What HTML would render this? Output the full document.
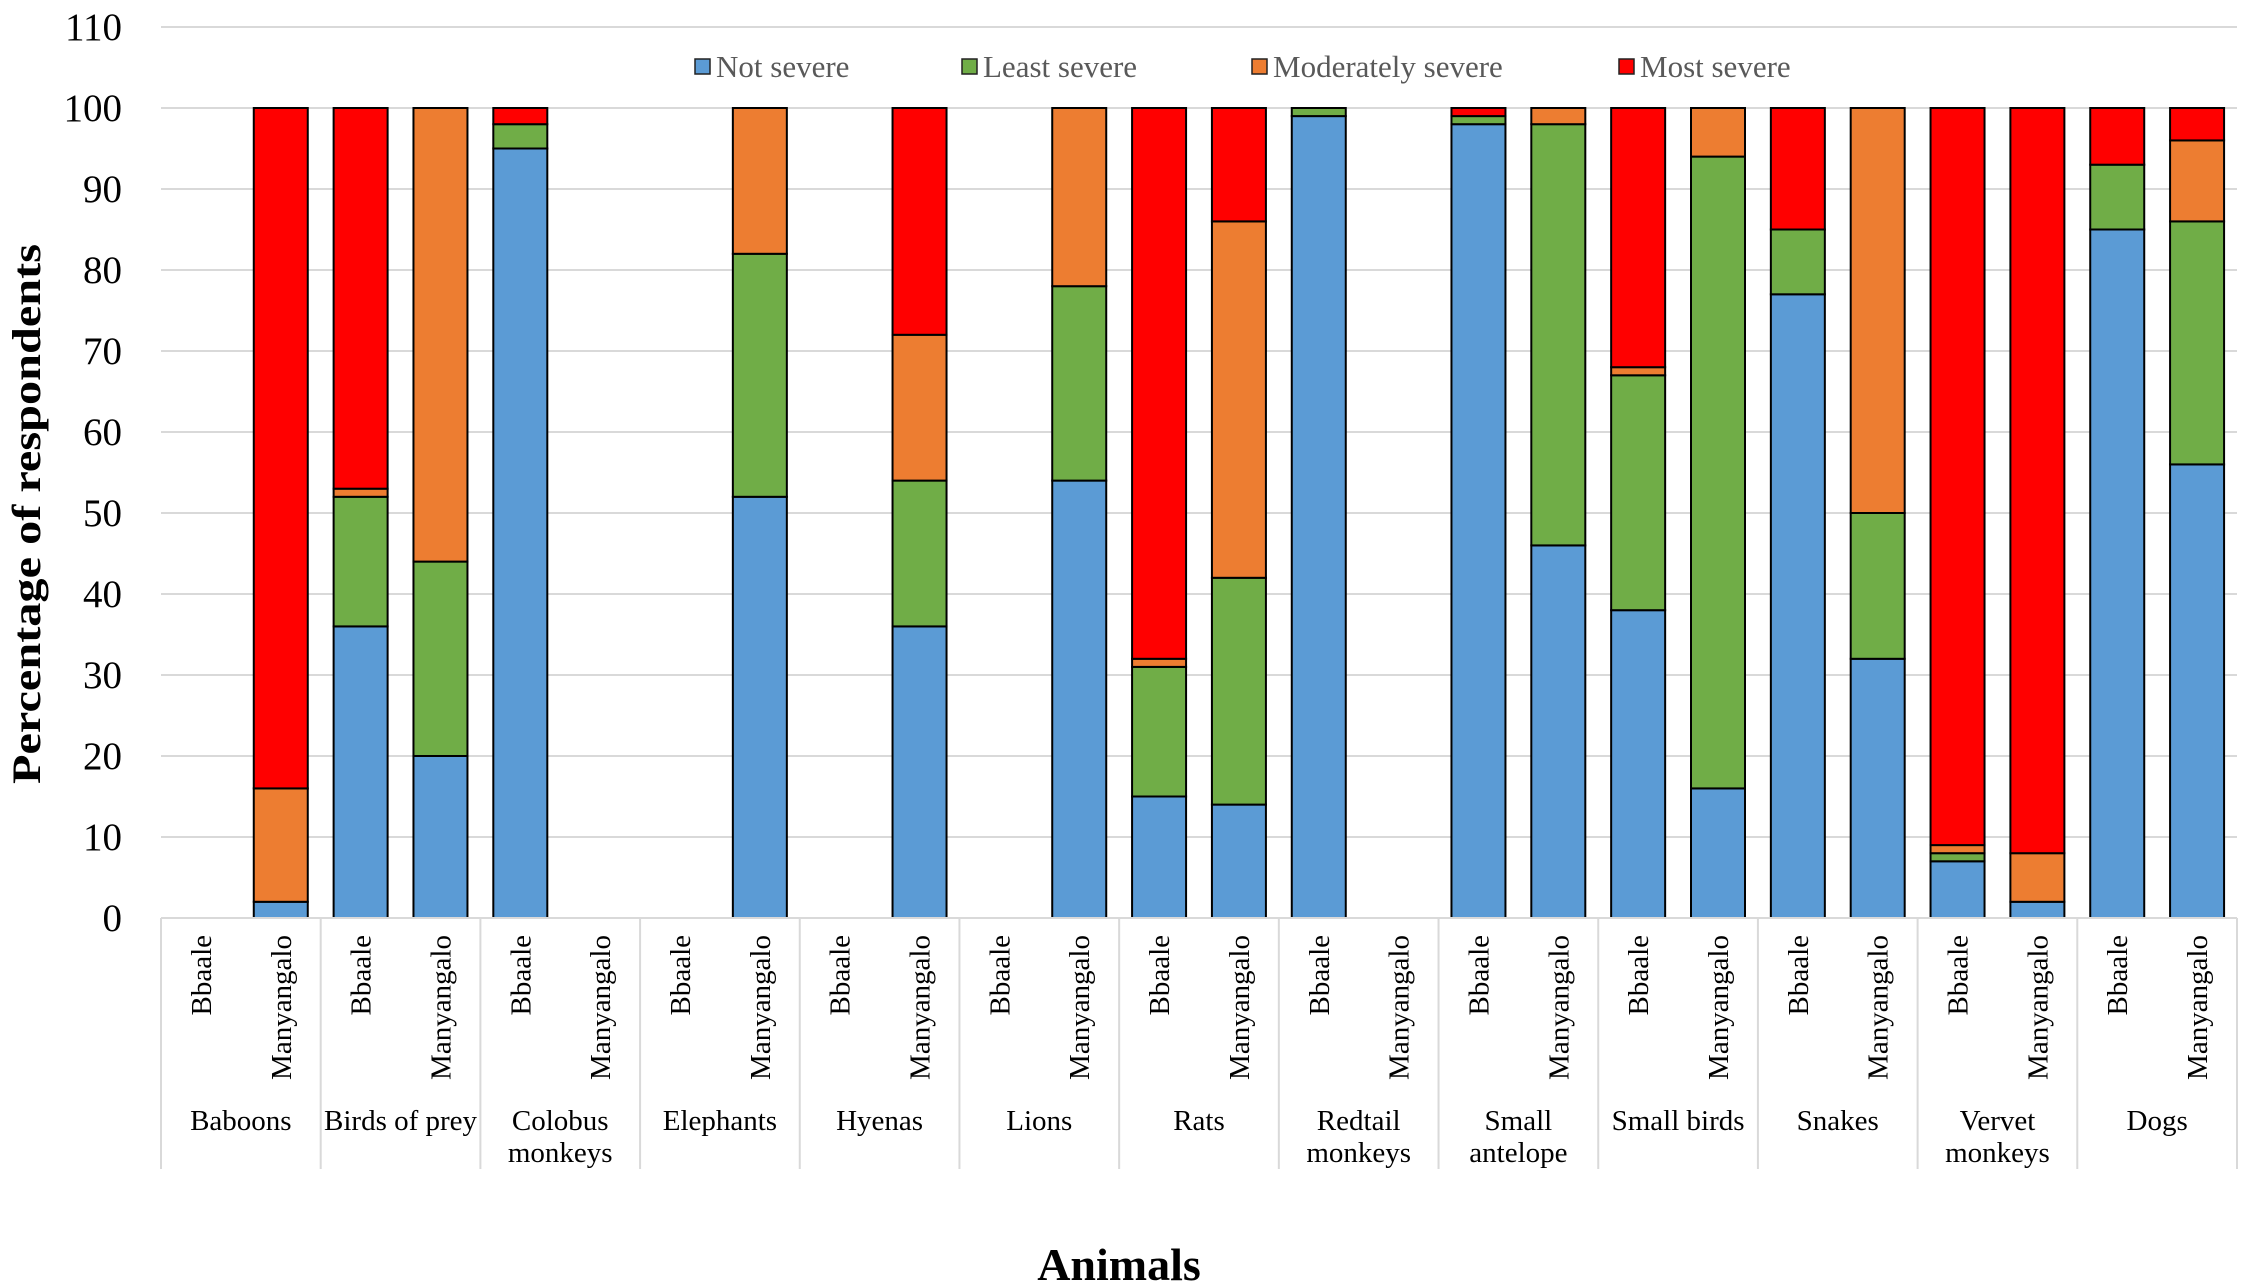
<!DOCTYPE html>
<html><head><meta charset="utf-8"><style>
html,body{margin:0;padding:0;background:#fff;}
svg{display:block;font-family:"Liberation Serif",serif;}
</style></head><body>
<svg id="chart" width="2246" height="1286" viewBox="0 0 2246 1286" xmlns="http://www.w3.org/2000/svg">
<g id="grid"></g>
<g id="yticks"></g>
<g id="bars"></g>
<g id="xaxis"></g>
<text transform="translate(40,514) rotate(-90)" text-anchor="middle" font-size="40" font-weight="bold" textLength="540" lengthAdjust="spacingAndGlyphs">Percentage of respondents</text>
<text x="1119" y="1280" text-anchor="middle" font-size="46" font-weight="bold">Animals</text>
<g id="legend"></g>
</svg>
<script>
const categories = ["Baboons","Birds of prey","Colobus monkeys","Elephants","Hyenas","Lions","Rats","Redtail monkeys","Small antelope","Small birds","Snakes","Vervet monkeys","Dogs"];
const sites = ["Bbaale","Manyangalo"];
const seriesNames = ["Not severe","Least severe","Moderately severe","Most severe"];
// values per bar, order: cat0-Bbaale, cat0-Manyangalo, cat1-Bbaale, ...
const notSevere      = [0,2, 36,20, 95,0, 0,52, 0,36, 0,54, 15,14, 99,0, 98,46, 38,16, 77,32, 7,2, 85,56];
const leastSevere    = [0,0, 16,24, 3,0,  0,30, 0,18, 0,24, 16,28, 1,0,  1,52,  29,78, 8,18,  1,0, 8,30];
const moderateSevere = [0,14, 1,56, 0,0,  0,18, 0,18, 0,22, 1,44,  0,0,  0,2,   1,6,   0,50,  1,6, 0,10];
const mostSevere     = [0,84, 47,0, 2,0,  0,0,  0,28, 0,0,  68,14, 0,0,  1,0,   32,0,  15,0,  91,92, 7,4];
const yTicks = [0,10,20,30,40,50,60,70,80,90,100,110];

const colors = ["#5B9BD5","#70AD47","#ED7D31","#FF0000"];
const NS = "http://www.w3.org/2000/svg";
const X0 = 161, X1 = 2237, Y0 = 918, PX = 8.1;
const catW = (X1 - X0) / categories.length;
const barW = 54;
function y(v){ return Y0 - v * PX; }
function barCenter(i){ return X0 + catW * (Math.floor(i/2) + (i%2 ? 0.75 : 0.25)); }
function mk(tag, attrs, parent){ const e=document.createElementNS(NS,tag); for(const k in attrs) e.setAttribute(k,attrs[k]); parent.appendChild(e); return e; }

const grid = document.getElementById('grid'), yt = document.getElementById('yticks');
yTicks.forEach(t=>{
  if(t>0){ const l=mk('line',{x1:X0,x2:X1,y1:y(t),y2:y(t),stroke:'#d9d9d9','stroke-width':2},grid);
    
     }
  const tx=mk('text',{x:122,y:y(t)+13,'text-anchor':'end','font-size':39},yt);
  tx.textContent=t;
  
  
});

const series=[notSevere,leastSevere,moderateSevere,mostSevere];
const bars=document.getElementById('bars');
for(let i=0;i<categories.length*2;i++){
  let acc=0; const cx=barCenter(i);
  series.forEach((s,k)=>{
    const v=s[i]; if(!v) return;
    const r=mk('rect',{x:cx-barW/2,y:y(acc+v),width:barW,height:v*PX,fill:colors[k],stroke:'#000','stroke-width':2},bars);
    
    
    acc+=v;
  });
}

const xa=document.getElementById('xaxis');
const ax=mk('line',{x1:X0,x2:X1,y1:Y0,y2:Y0,stroke:'#d9d9d9','stroke-width':2},xa);


for(let c=0;c<=categories.length;c++){
  const xx=X0+c*catW;
  const l=mk('line',{x1:xx,x2:xx,y1:Y0,y2:1169,stroke:'#d9d9d9','stroke-width':2},xa);
  
  
}
for(let i=0;i<categories.length*2;i++){
  const cx=barCenter(i);
  const t=mk('text',{transform:`translate(${cx+10},935) rotate(-90)`,'text-anchor':'end','font-size':29},xa);
  t.textContent=sites[i%2];
  
  
}
categories.forEach((c,ci)=>{
  const cx=X0+catW*(ci+0.5);
  const words=c.split(' ');
  let lines=[c];
  if(c==="Colobus monkeys"||c==="Redtail monkeys"||c==="Vervet monkeys"||c==="Small antelope") lines=[words[0],words.slice(1).join(' ')];
  const t=mk('text',{x:cx,y:1130,'text-anchor':'middle','font-size':29},xa);
  
  
  lines.forEach((ln,li)=>{ const ts=mk('tspan',{x:cx,dy:li?32:0},t); ts.textContent=ln; });
});

const lg=document.getElementById('legend');
const lx=[695,962,1252,1619];
seriesNames.forEach((n,k)=>{
  const r=mk('rect',{x:lx[k],y:59,width:15,height:15,fill:colors[k],stroke:'#222','stroke-width':1.5},lg);
  
  
  const t=mk('text',{x:lx[k]+21,y:77,'font-size':31,fill:'#595959'},lg);
  t.textContent=n;
  
  
});
</script>
</body></html>
